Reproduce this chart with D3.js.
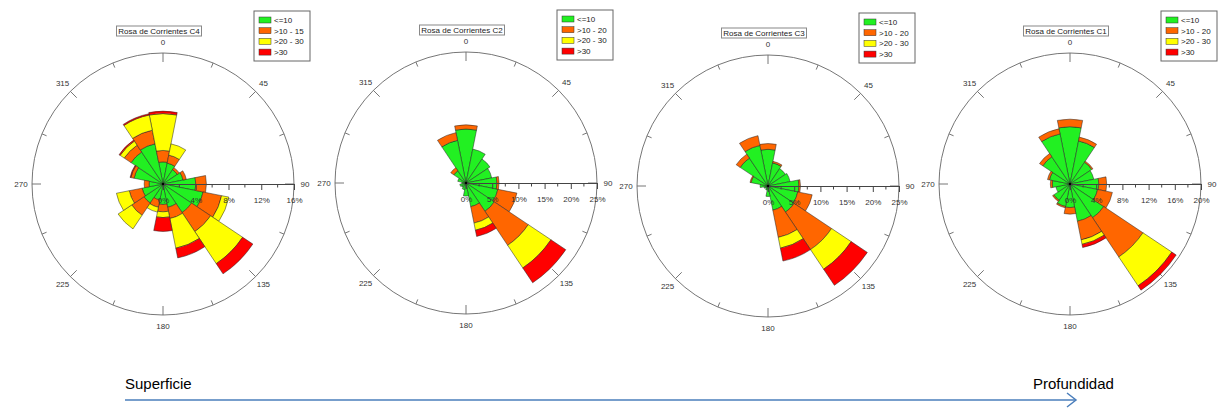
<!DOCTYPE html>
<html>
<head>
<meta charset="utf-8">
<script src="https://cdn.jsdelivr.net/npm/d3@7"></script>
<style>
  body { margin: 0; background: #fff; }
  text { font-family: "Liberation Sans", Arial, sans-serif; }
</style>
</head>
<body>
<svg id="chart"></svg>
<script>
let width = 1219;
let height = 408;
let radius = 131;

let green = "#22f022";
let orange = "#ff6600";
let yellow = "#ffff00";
let red = "#ff0000";
let colors = [green, orange, yellow, red];

// sector centres, compass degrees
let directions = [0, 22.5, 45, 67.5, 90, 112.5, 135, 157.5, 180, 202.5, 225, 247.5, 270, 292.5, 315, 337.5];
let compassLabels = [0, 45, 90, 135, 180, 225, 270, 315];

let titles = ["Rosa de Corrientes C4", "Rosa de Corrientes C2", "Rosa de Corrientes C3", "Rosa de Corrientes C1"];
let legendC4 = ["<=10", ">10 - 15", ">20 - 30", ">30"];
let legendOther = ["<=10", ">10 - 20", ">20 - 30", ">30"];

// frequency (%) of each speed class per direction
let c4Green  = [2.7, 2.6, 2.1, 2.5, 4.0, 5.0, 4.2, 2.9, 2.5, 2.0, 2.8, 2.6, 1.7, 3.6, 4.7, 5.0];
let c4Orange = [1.4, 1.0, 0.3, 0.4, 1.3, 2.3, 2.8, 1.4, 0.9, 0.9, 1.8, 1.6, 0.6, 0.4, 1.0, 1.7];
let c4Yellow = [4.5, 1.4, 0, 0, 0, 0.9, 4.7, 3.7, 0.7, 0.6, 2.0, 1.6, 0, 0, 0.6, 1.9];
let c4Red    = [0.3, 0, 0, 0, 0, 0, 1.5, 1.2, 1.7, 0, 0, 0, 0, 0.1, 0.15, 0.15];

let c2Green  = [10.3, 6.6, 5.5, 5.0, 5.9, 6.2, 6.5, 4.6, 2.5, 1.3, 1.0, 1.2, 0.8, 1.6, 2.8, 8.3];
let c2Orange = [0.8, 0, 0, 0, 0.4, 3.7, 7.8, 3.2, 0, 0, 0, 0, 0, 0, 0.7, 1.5];
let c2Yellow = [0, 0, 0, 0, 0, 0, 5.2, 1.4, 0, 0, 0, 0, 0, 0, 0, 0];
let c2Red    = [0, 0, 0, 0, 0, 0, 3.4, 1.2, 0, 0, 0, 0, 0, 0, 0, 0];

let c3Green  = [7.0, 4.5, 4.0, 4.3, 5.9, 5.8, 6.0, 4.7, 2.0, 0.8, 0.6, 0.8, 1.5, 3.3, 6.4, 7.9];
let c3Orange = [1.1, 0.3, 0, 0, 0.3, 2.8, 8.6, 5.3, 0, 0, 0, 0, 0, 0.2, 0.9, 1.9];
let c3Yellow = [0, 0, 0, 0, 0, 0, 4.5, 2.1, 0, 0, 0, 0, 0, 0, 0, 0];
let c3Red    = [0, 0, 0, 0, 0, 0, 3.7, 2.5, 0, 0, 0, 0, 0, 0, 0, 0];

let c1Green  = [8.75, 6.7, 4.0, 3.7, 4.4, 4.3, 6.2, 5.8, 3.6, 3.5, 3.0, 2.2, 2.7, 3.2, 5.0, 7.8];
let c1Orange = [1.15, 0.6, 0.2, 0, 1.2, 2.3, 7.2, 2.9, 1.0, 0.2, 0.2, 0, 0.3, 0.3, 0.6, 0.8];
let c1Yellow = [0, 0, 0, 0, 0, 0, 5.3, 0.7, 0, 0, 0, 0, 0, 0, 0, 0];
let c1Red    = [0, 0, 0, 0, 0, 0, 0.8, 0.5, 0, 0, 0, 0, 0, 0, 0, 0];

// radial axis ticks (%)
let c4Ticks = [0, 4, 8, 12, 16];
let c2Ticks = [0, 5, 10, 15, 20, 25];
let c3Ticks = [0, 5, 10, 15, 20, 25];
let c1Ticks = [0, 4, 8, 12, 16, 20];

let panels = [
  { cx: 163, cy: 184, title: titles[0], legend: legendC4, ticks: c4Ticks, series: [c4Green, c4Orange, c4Yellow, c4Red] },
  { cx: 466, cy: 183, title: titles[1], legend: legendOther, ticks: c2Ticks, series: [c2Green, c2Orange, c2Yellow, c2Red] },
  { cx: 768, cy: 186, title: titles[2], legend: legendOther, ticks: c3Ticks, series: [c3Green, c3Orange, c3Yellow, c3Red] },
  { cx: 1070, cy: 184, title: titles[3], legend: legendOther, ticks: c1Ticks, series: [c1Green, c1Orange, c1Yellow, c1Red] }
];

let svg = d3.select("#chart")
  .attr("width", width)
  .attr("height", height);

panels.forEach(drawRose);
drawArrow();

function drawRose(p) {
  let g = svg.append("g").attr("transform", `translate(${p.cx},${p.cy})`);
  let maxTick = d3.max(p.ticks);
  let r = d3.scaleLinear().domain([0, maxTick]).range([0, radius]);
  let half = 11.25 * Math.PI / 180;
  let toRad = d => d * Math.PI / 180;

  // outer ring
  g.append("circle")
    .attr("r", radius)
    .attr("fill", "none")
    .attr("stroke", "#666")
    .attr("stroke-width", 0.9);

  // ring ticks
  g.selectAll(".ringtick")
    .data(directions)
    .enter().append("line")
      .attr("x1", d => Math.sin(toRad(d)) * radius)
      .attr("y1", d => -Math.cos(toRad(d)) * radius)
      .attr("x2", d => Math.sin(toRad(d)) * (radius - (d % 45 == 0 ? 9 : 5)))
      .attr("y2", d => -Math.cos(toRad(d)) * (radius - (d % 45 == 0 ? 9 : 5)))
      .attr("stroke", "#666")
      .attr("stroke-width", 0.9);

  // compass labels
  g.selectAll(".compass")
    .data(compassLabels)
    .enter().append("text")
      .attr("x", d => Math.sin(toRad(d)) * 142)
      .attr("y", d => -Math.cos(toRad(d)) * 142)
      .attr("dy", "0.35em")
      .attr("text-anchor", "middle")
      .attr("font-size", 8)
      .attr("fill", "#333")
      .text(d => d);

  // stacked sectors
  let rows = directions.map((d, i) => ({ dir: d, g: p.series[0][i], o: p.series[1][i], y: p.series[2][i], r: p.series[3][i] }));
  let stacked = d3.stack().keys(["g", "o", "y", "r"])(rows);
  let arc = d3.arc();

  stacked.forEach((layer, k) => {
    g.append("g").selectAll("path")
      .data(layer.filter(s => s[1] - s[0] > 0))
      .enter().append("path")
        .attr("d", s => arc({
          innerRadius: r(s[0]),
          outerRadius: r(s[1]),
          startAngle: toRad(s.data.dir) - half,
          endAngle: toRad(s.data.dir) + half
        }))
        .attr("fill", colors[k])
        .attr("stroke", "#222")
        .attr("stroke-width", 0.5);
  });

  // radial axis along 90 degrees
  let minor = d3.range(0, maxTick, p.ticks[1] / 2).filter(v => !p.ticks.includes(v));
  let axis = d3.axisBottom(r)
    .tickValues(p.ticks)
    .tickFormat(d => d + "%")
    .tickSize(6)
    .tickSizeOuter(0)
    .tickPadding(7);
  let ax = g.append("g").call(axis);
  ax.select(".domain").attr("stroke", "#444");
  ax.selectAll(".tick line").attr("stroke", "#444");
  ax.selectAll(".tick text")
    .attr("font-family", "Liberation Sans, Arial, sans-serif")
    .attr("font-size", 8)
    .attr("fill", "#333");
  ax.selectAll(".minor")
    .data(minor)
    .enter().append("line")
      .attr("x1", d => r(d)).attr("x2", d => r(d))
      .attr("y1", 0).attr("y2", 3.5)
      .attr("stroke", "#444");

  g.append("circle").attr("r", 1.2).attr("fill", "#000");

  // title box
  let title = g.append("g").attr("transform", `translate(-4,-153)`);
  title.append("rect")
    .attr("x", -42.5).attr("y", -5)
    .attr("width", 85).attr("height", 10)
    .attr("fill", "#fff")
    .attr("stroke", "#888");
  title.append("text")
    .attr("text-anchor", "middle")
    .attr("dy", "0.35em")
    .attr("font-size", 8)
    .attr("fill", "#222")
    .text(p.title);

  // legend
  let lg = g.append("g").attr("transform", `translate(91,-173)`);
  lg.append("rect")
    .attr("width", 56).attr("height", 50)
    .attr("fill", "#fff")
    .attr("stroke", "#666");
  p.legend.forEach((lab, i) => {
    let yy = 9 + i * 10.7;
    lg.append("rect")
      .attr("x", 5).attr("y", yy - 3)
      .attr("width", 12).attr("height", 6)
      .attr("fill", colors[i])
      .attr("stroke", "#333")
      .attr("stroke-width", 0.5);
    lg.append("text")
      .attr("x", 20).attr("y", yy)
      .attr("dy", "0.35em")
      .attr("font-size", 8)
      .attr("fill", "#222")
      .text(lab);
  });
}

function drawArrow() {
  let x = d3.scaleLinear().domain([0, 1]).range([125, 1076]);
  let y = 400;
  svg.append("line")
    .attr("x1", x(0)).attr("x2", x(1))
    .attr("y1", y).attr("y2", y)
    .attr("stroke", "#4a7ebb")
    .attr("stroke-width", 1.5);
  svg.append("path")
    .attr("d", `M${x(1) - 9},${y - 7} L${x(1)},${y} L${x(1) - 9},${y + 7}`)
    .attr("fill", "none")
    .attr("stroke", "#4a7ebb")
    .attr("stroke-width", 1.5);

  svg.append("text")
    .attr("x", x(0)).attr("y", 389)
    .attr("font-family", "Lato, sans-serif")
    .attr("font-size", 15)
    .attr("fill", "#000")
    .text("Superficie");
  svg.append("text")
    .attr("x", 1033).attr("y", 389)
    .attr("font-family", "Lato, sans-serif")
    .attr("font-size", 15)
    .attr("fill", "#000")
    .text("Profundidad");
}
</script>
</body>
</html>
